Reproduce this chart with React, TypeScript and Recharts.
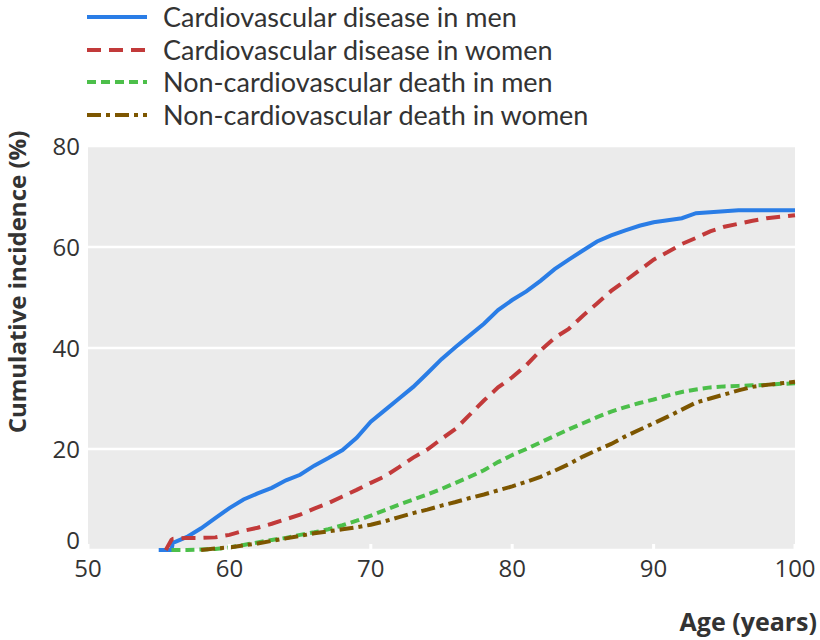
import React from 'react';
import { LineChart, Line, XAxis, YAxis, CartesianGrid } from 'recharts';

// Age grid (years) shared by all four curves
const ages = [
  55, 55.5, 55.9, 56, 57, 58, 59, 60, 61, 62, 63, 64, 65, 66, 67, 68, 69, 70,
  71, 72, 73, 74, 75, 76, 77, 78, 79, 80, 81, 82, 83, 84, 85, 86, 87, 88, 89,
  90, 91, 92, 93, 94, 95, 96, 97, 98, 99, 100,
];

// Cumulative incidence (%)
const cvdMen = [
  0, 0, 0, 1.4, 2.6, 4.3, 6.3, 8.3, 10.0, 11.2, 12.3, 13.8, 14.9, 16.7, 18.2,
  19.8, 22.2, 25.4, 27.7, 30.0, 32.3, 35.0, 37.8, 40.2, 42.5, 44.8, 47.5,
  49.5, 51.2, 53.3, 55.6, 57.5, 59.3, 61.1, 62.3, 63.3, 64.2, 64.9, 65.3,
  65.7, 66.7, 66.9, 67.1, 67.3, 67.3, 67.3, 67.3, 67.3,
];
const cvdWomen = [
  null, 0, 2.0, 2.2, 2.4, 2.4, 2.5, 3.0, 3.8, 4.4, 5.2, 6.1, 7.0, 8.2, 9.3,
  10.6, 11.9, 13.3, 14.6, 16.4, 18.3, 19.9, 22.0, 24.0, 26.8, 29.6, 32.2,
  34.2, 36.6, 39.5, 42.0, 43.8, 46.4, 48.8, 51.3, 53.3, 55.4, 57.5, 59.0,
  60.6, 61.8, 63.1, 64.0, 64.6, 65.2, 65.7, 66.0, 66.3,
];
const nonCvdMen = [
  null, null, 0, 0, 0, 0.1, 0.2, 0.5, 1.0, 1.5, 2.0, 2.4, 3.0, 3.5, 4.1, 4.9,
  5.8, 6.8, 7.9, 9.0, 10.0, 11.0, 12.1, 13.3, 14.5, 15.8, 17.4, 18.8, 20.0,
  21.3, 22.6, 23.9, 25.1, 26.3, 27.4, 28.3, 29.1, 29.8, 30.6, 31.3, 31.8,
  32.2, 32.4, 32.5, 32.6, 32.7, 32.9, 33.0,
];
const nonCvdWomen = [
  null, null, null, null, null, 0, 0.3, 0.5, 0.9, 1.3, 1.8, 2.3, 2.8, 3.3, 3.7,
  4.1, 4.5, 5.0, 5.7, 6.5, 7.3, 8.0, 8.8, 9.5, 10.3, 11.0, 11.8, 12.6, 13.5,
  14.5, 15.7, 17.0, 18.5, 19.8, 21.0, 22.5, 23.8, 25.1, 26.4, 27.8, 29.2,
  30.0, 30.8, 31.6, 32.3, 32.7, 33.0, 33.3,
];

const xTicks = [50, 60, 70, 80, 90, 100];
const yTicks = [0, 20, 40, 60, 80];

const FONT = '"Open Sans", sans-serif';
const LEGEND_FONT = 'Lato, "Open Sans", sans-serif';
const TEXT = '#333333';

const seriesStyle = [
  { key: 'cvdMen', name: 'Cardiovascular disease in men', color: '#2a7de6', dash: undefined },
  { key: 'cvdWomen', name: 'Cardiovascular disease in women', color: '#c23a3a', dash: '14 8' },
  { key: 'nonCvdMen', name: 'Non-cardiovascular death in men', color: '#4cbf4a', dash: '9 5' },
  { key: 'nonCvdWomen', name: 'Non-cardiovascular death in women', color: '#7d5600', dash: '14 5 4 5' },
];

const data = ages.map((age, i) => ({
  age,
  cvdMen: cvdMen[i],
  cvdWomen: cvdWomen[i],
  nonCvdMen: nonCvdMen[i],
  nonCvdWomen: nonCvdWomen[i],
}));

// x tick: small white notch inside the plot plus the label below
const XTick = (props: any) => {
  const { x, y, payload } = props;
  return (
    <g>
      <line x1={x} x2={x} y1={y - 10} y2={y - 16} stroke="#ffffff" strokeWidth={3} />
      <text x={x} y={y} dy="0.71em" textAnchor="middle" fontSize={24} fontFamily={FONT} fill={TEXT}>
        {payload.value}
      </text>
    </g>
  );
};

// y tick: the 0 label sits a little above the baseline, clear of the x labels
const YTick = (props: any) => {
  const { x, y, payload } = props;
  const lift = payload.value === 0 ? -10 : 0;
  return (
    <text x={x} y={y + lift} dy="0.355em" textAnchor="end" fontSize={24} fontFamily={FONT} fill={TEXT}>
      {payload.value}
    </text>
  );
};

export default function App() {
  return (
    <div style={{ position: 'absolute', left: 0, top: 0, width: 820, height: 640, background: '#fff' }}>
      {/* legend */}
      <div style={{ position: 'absolute', left: 87, top: 0 }}>
        {seriesStyle.map((s, i) => (
          <div
            key={s.key}
            style={{ position: 'absolute', left: 0, top: 17 + i * 32.5 - 15, height: 30, display: 'flex', alignItems: 'center', whiteSpace: 'nowrap' }}
          >
            <svg width={60} height={8} style={{ display: 'block' }}>
              <line x1={0} x2={60} y1={4} y2={4} stroke={s.color} strokeWidth={4} strokeDasharray={s.dash} />
            </svg>
            <span style={{ marginLeft: 16, fontFamily: LEGEND_FONT, fontSize: 27, lineHeight: '30px', color: TEXT }}>{s.name}</span>
          </div>
        ))}
      </div>

      <LineChart width={820} height={640} data={data} margin={{ top: 146, right: 25, bottom: 50, left: 28 }}>
        <CartesianGrid vertical={false} stroke="#ffffff" strokeWidth={2.5} fill="#ebebeb" />
        <XAxis
          dataKey="age"
          type="number"
          domain={[50, 100]}
          ticks={xTicks}
          axisLine={false}
          tickLine={false}
          tickSize={0}
          tickMargin={10}
          height={40}
          tick={<XTick />}
          interval={0}
        />
        <YAxis
          type="number"
          domain={[0, 80]}
          ticks={yTicks}
          axisLine={false}
          tickLine={false}
          tickSize={0}
          tickMargin={8}
          width={60}
          interval={0}
          tick={<YTick />}
        />
        {seriesStyle.map((s) => (
          <Line
            key={s.key}
            dataKey={s.key}
            name={s.name}
            type="linear"
            stroke={s.color}
            strokeWidth={4}
            strokeDasharray={s.dash}
            dot={false}
            activeDot={false}
            isAnimationActive={false}
          />
        ))}
      </LineChart>

      <div
        style={{
          position: 'absolute', left: 16, top: 282, transform: 'translate(-50%, -50%) rotate(-90deg)',
          fontFamily: FONT, fontWeight: 700, fontSize: 24, color: TEXT, whiteSpace: 'nowrap',
        }}
      >
        Cumulative incidence (%)
      </div>
      <div
        style={{
          position: 'absolute', right: 3, top: 604, fontFamily: FONT, fontWeight: 700,
          fontSize: 25, color: TEXT, whiteSpace: 'nowrap',
        }}
      >
        Age (years)
      </div>
    </div>
  );
}
